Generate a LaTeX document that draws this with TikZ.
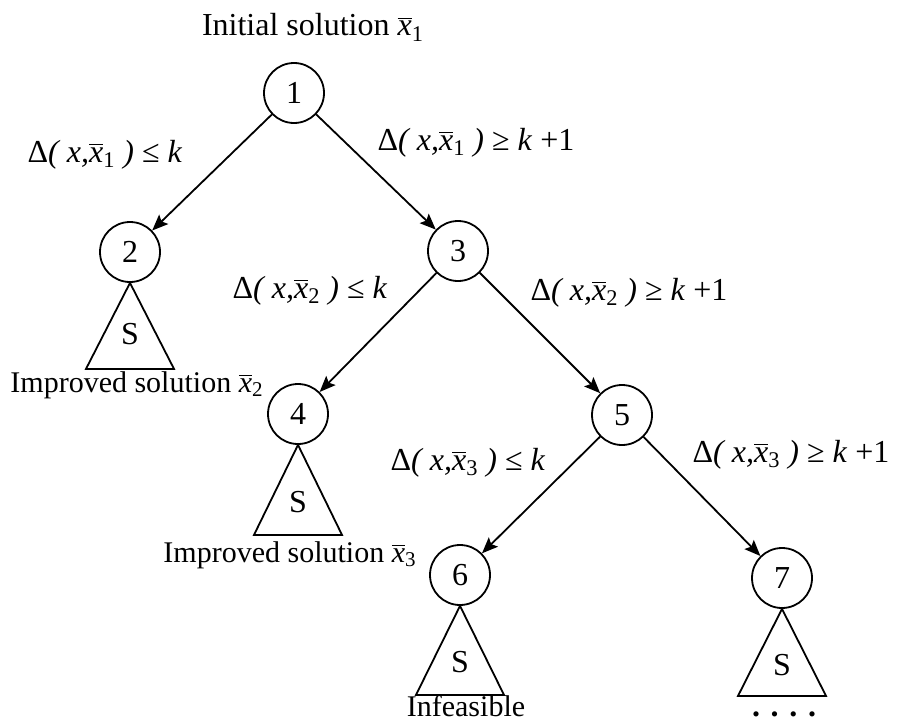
\documentclass[tikz,border=0pt]{standalone}
\usepackage{fontspec}
\setmainfont{Liberation Serif}
\usetikzlibrary{arrows.meta}
\newcommand{\xb}[1]{{\itshape$\overline{\mbox{x}}$}\textsubscript{#1}}
\newcommand{\dlt}[2]{Δ\textit{( x,}\xb{#1}\textit{ )} #2 \textit{k}}
\begin{document}
\begin{tikzpicture}[x=0.5pt,y=-0.5pt,font=\fontsize{16}{19}\selectfont,
  state/.style={circle,draw,line width=0.9pt,minimum size=30pt,inner sep=0pt},
  edge/.style={line width=0.9pt,-{Stealth[length=8pt,width=6.5pt,inset=1.5pt]}},
  lbl/.style={anchor=base,inner sep=0pt},
  note/.style={lbl,font=\fontsize{15}{18}\selectfont},
  tri/.style={line width=0.9pt,line join=miter}]
\useasboundingbox (0,0) rectangle (897,722);
% states
\node[state] (n1) at (294,93) {1};
\node[state] (n2) at (130,252) {2};
\node[state] (n3) at (458,251) {3};
\node[state] (n4) at (298,414) {4};
\node[state] (n5) at (622,415) {5};
\node[state] (n6) at (460,575) {6};
\node[state] (n7) at (782,578) {7};
% edges
\draw[edge] (n1) -- (n2);
\draw[edge] (n1) -- (n3);
\draw[edge] (n3) -- (n4);
\draw[edge] (n3) -- (n5);
\draw[edge] (n5) -- (n6);
\draw[edge] (n5) -- (n7);
% subtrees
\draw[tri] (n2.south) -- ++(-44,86) -- ++(88,0) -- cycle;
\draw[tri] (n4.south) -- ++(-44,90) -- ++(88,0) -- cycle;
\draw[tri] (n6.south) -- ++(-44,89) -- ++(88,0) -- cycle;
\draw[tri] (n7.south) -- ++(-44,87) -- ++(88,0) -- cycle;
\node[lbl] (s2) at (130,344) {S};
\node[lbl] (s4) at (298,512) {S};
\node[lbl] (s6) at (460,672) {S};
\node[lbl] (s7) at (782,675) {S};
% labels
\node[lbl] (init) at (313,36) {Initial solution \xb{1}};
\node[lbl] (l1) at (105,162) {\dlt{1}{≤}};
\node[lbl] (r1) at (476,150) {\dlt{1}{≥} +1};
\node[lbl] (l2) at (310,298) {\dlt{2}{≤}};
\node[lbl] (r2) at (629,300) {\dlt{2}{≥} +1};
\node[lbl] (l3) at (468,470) {\dlt{3}{≤}};
\node[lbl] (r3) at (791,462) {\dlt{3}{≥} +1};
\node[note] (imp2) at (137,392) {Improved solution \xb{2}};
\node[note] (imp3) at (290,562) {Improved solution \xb{3}};
\node[note] (inf) at (466,716) {Infeasible};
\node[lbl] (dots) at (784,716) {\textbf{. . . .}};
\end{tikzpicture}
\end{document}
